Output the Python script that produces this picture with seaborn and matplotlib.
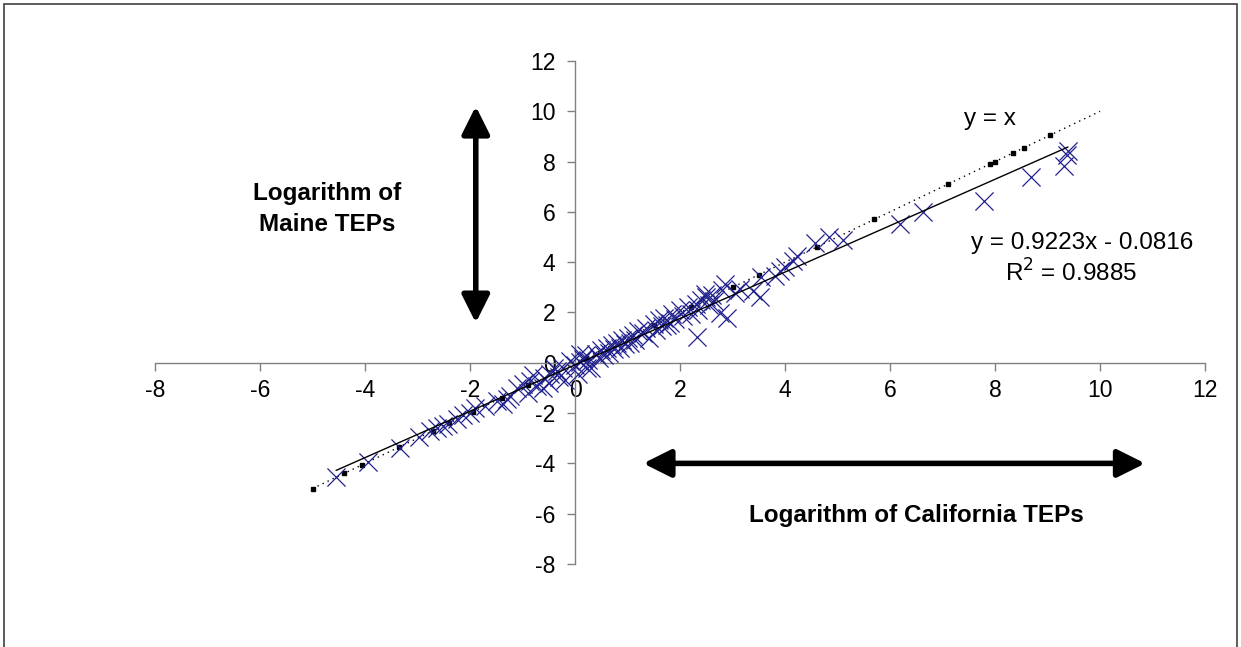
import numpy as np
import pandas as pd
import seaborn as sns
import matplotlib.pyplot as plt
from matplotlib.patches import Rectangle

# log California TEPs (x) vs log Maine TEPs (y)
california = [-4.55, -3.94, -3.33, -2.97, -2.76, -2.63, -2.52, -2.42, -2.25, -2.13,
              -2.0, -1.9, -1.71, -1.49, -1.37, -1.3, -1.24, -1.1, -0.99, -0.9,
              -0.86, -0.8, -0.72, -0.61, -0.6, -0.5, -0.48, -0.4, -0.34, -0.3,
              -0.23, -0.2, -0.1, 0.0, 0.05, 0.1, 0.1, 0.16, 0.2, 0.22,
              0.25, 0.3, 0.4, 0.45, 0.5, 0.55, 0.6, 0.65, 0.7, 0.75,
              0.8, 0.85, 0.9, 0.95, 1.0, 1.05, 1.1, 1.15, 1.2, 1.3,
              1.35, 1.4, 1.5, 1.55, 1.6, 1.65, 1.7, 1.75, 1.8, 1.85,
              1.9, 2.0, 2.05, 2.15, 2.2, 2.3, 2.32, 2.35, 2.4, 2.48,
              2.5, 2.55, 2.6, 2.65, 2.76, 2.8, 2.86, 2.9, 3.05, 3.14,
              3.39, 3.52, 3.55, 3.81, 3.9, 4.0, 4.15, 4.23, 4.57, 4.84,
              5.1, 6.19, 6.63, 7.79, 8.69, 9.31, 9.37, 9.39]
maine = [-4.56, -3.93, -3.4, -2.97, -2.7, -2.58, -2.5, -2.43, -2.22, -2.06,
         -1.98, -1.78, -1.7, -1.51, -1.63, -1.43, -1.31, -1.0, -0.83, -1.2,
         -0.71, -0.5, -0.91, -0.99, -0.6, -0.8, -0.44, -0.2, -0.32, -0.55,
         -0.2, -0.7, 0.08, -0.1, -0.45, 0.05, 0.36, 0.16, 0.3, -0.2,
         0.1, -0.2, 0.35, 0.2, 0.5, 0.3, 0.6, 0.4, 0.7, 0.55,
         0.8, 0.6, 0.9, 0.75, 1.0, 0.8, 1.1, 0.9, 1.25, 1.2,
         1.4, 1.0, 1.55, 1.3, 1.7, 1.45, 1.8, 1.5, 1.6, 1.95,
         1.75, 2.1, 1.85, 2.2, 1.95, 2.35, 1.03, 2.1, 2.5, 2.74,
         2.6, 2.3, 2.7, 2.45, 1.98, 2.9, 3.15, 1.8, 2.78, 2.94,
         2.86, 2.6, 3.4, 3.45, 3.65, 3.8, 4.05, 4.25, 4.76, 5.0,
         4.88, 5.5, 6.0, 6.45, 7.38, 7.84, 8.28, 8.42]

# trendline as printed on the chart
slope, intercept = 0.9223, -0.0816
# y = x reference line and its square dots
yx_range = [-5, 10]
yx_dots = [-5.0, -4.4, -4.05, -3.35, -2.7, -2.4, -1.95, -1.4, -0.9, 0.2,
           1.5, 2.2, 3.0, 3.5, 4.6, 5.7, 7.1, 7.9, 8.0, 8.35, 8.55, 9.05]

df = pd.DataFrame({'california': california, 'maine': maine})

sns.set_style('ticks')
plt.rcParams['font.family'] = ['Liberation Sans', 'DejaVu Sans']
plt.rcParams['axes.unicode_minus'] = False
plt.rcParams['text.color'] = 'black'

fig = plt.figure(figsize=(12.41, 6.47), dpi=100)
ax = fig.add_axes([155 / 1241, 1 - 564 / 647, 1050 / 1241, 503 / 647])

# y = x dotted line
ax.plot(yx_range, yx_range, color='black', linestyle=(0, (1, 3)), linewidth=1.0, zorder=2)
ax.plot(yx_dots, yx_dots, linestyle='none', marker='s', markersize=2.2, color='black', zorder=2)

sns.scatterplot(data=df, x='california', y='maine', marker='x', color='#22228f',
                s=170, linewidth=0.9, ax=ax, zorder=3, legend=False)

xs = np.array([min(california), max(california)])
ax.plot(xs, slope * xs + intercept, color='black', linewidth=1.0, zorder=4)

ax.set_xlim(-8, 12)
ax.set_ylim(-8, 12)
ax.set_xticks(range(-8, 13, 2))
ax.set_yticks(range(-8, 13, 2))
ax.set_xlabel('')
ax.set_ylabel('')

for side in ['top', 'right']:
    ax.spines[side].set_visible(False)
ax.spines['left'].set_position(('data', 0))
ax.spines['bottom'].set_position(('data', 0))
for side in ['left', 'bottom']:
    ax.spines[side].set_color('#808080')
    ax.spines[side].set_linewidth(1.0)
ax.tick_params(axis='both', colors='#808080', labelcolor='black', labelsize=16.5,
               length=6, width=1.0, direction='out')
ax.tick_params(axis='x', pad=6)
ax.tick_params(axis='y', pad=8)

ax.text(7.9, 9.68, 'y = x', fontsize=17.5, ha='center', va='center')
ax.text(11.77, 4.76, 'y = 0.9223x - 0.0816', fontsize=17.5, ha='right', va='center')
ax.text(10.7, 3.57, 'R$^2$ = 0.9885', fontsize=17.5, ha='right', va='center')

ax.text(-4.72, 6.1, 'Logarithm of\nMaine TEPs', fontsize=17.5, fontweight='bold',
        ha='center', va='center', linespacing=1.45)
ax.text(6.5, -6.07, 'Logarithm of California TEPs', fontsize=17.5, fontweight='bold',
        ha='center', va='center')

arrow = dict(arrowstyle='<|-|>', color='black', lw=4, mutation_scale=42,
             shrinkA=0, shrinkB=0)
ax.annotate('', xy=(-1.89, 10.2), xytext=(-1.89, 1.59), arrowprops=arrow)
ax.annotate('', xy=(1.3, -4.0), xytext=(10.86, -4.0), arrowprops=arrow)

fig.patches.append(Rectangle((4 / 1241, -0.02), 1233 / 1241, 1 - 4 / 647 + 0.02,
                             transform=fig.transFigure, fill=False,
                             edgecolor='#404040', linewidth=1.2))

fig.savefig('out.png', dpi=100)
